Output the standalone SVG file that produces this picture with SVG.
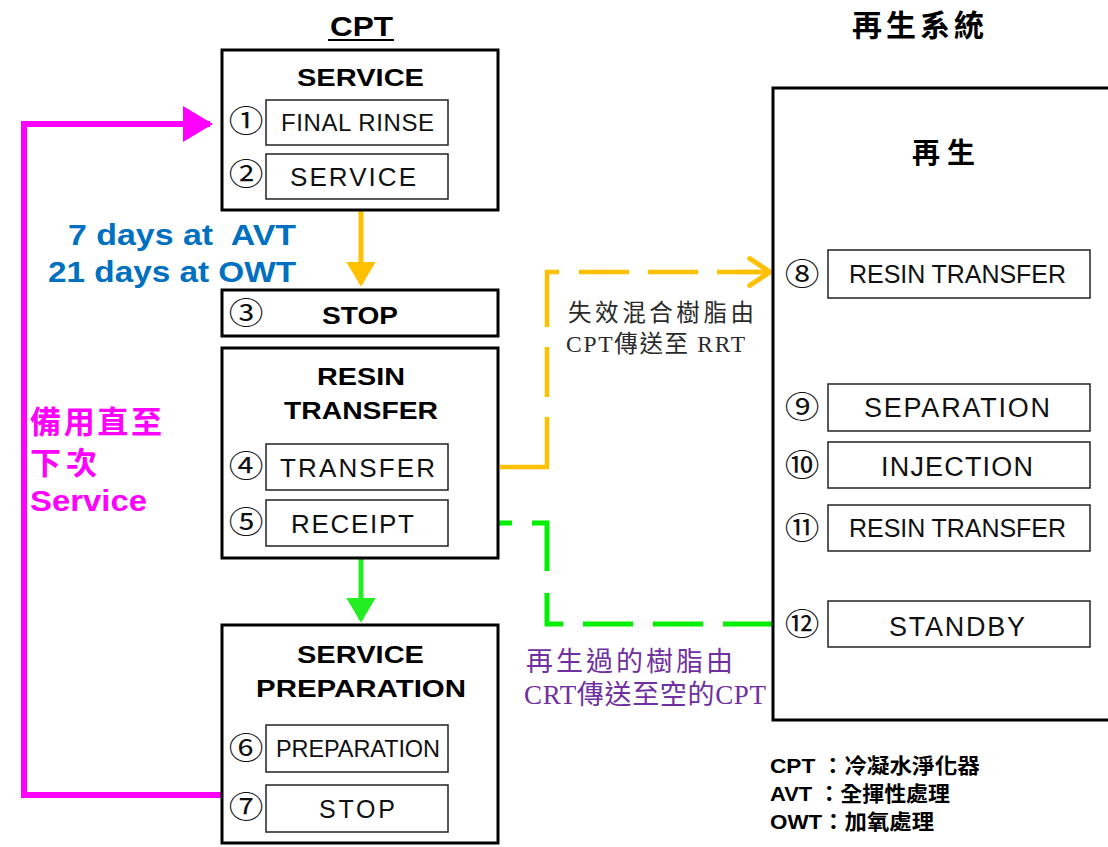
<svg xmlns="http://www.w3.org/2000/svg" width="1108" height="847" viewBox="0 0 1108 847">
<defs>
<style>
.box{fill:#fff;stroke:#000;stroke-width:3}
.ibox{fill:#fff;stroke:#222;stroke-width:1.5}
.ttl{font-family:"Liberation Sans","Noto Sans CJK TC",sans-serif;font-weight:bold;font-size:24px;fill:#000;text-anchor:middle}
.cjt{font-family:"Noto Sans CJK TC",sans-serif;font-weight:bold;fill:#000;text-anchor:middle}
.itx{font-family:"Liberation Sans",sans-serif;font-size:24px;fill:#111;text-anchor:middle}
.num{font-family:"Noto Sans CJK TC","DejaVu Sans",sans-serif;font-size:31px;fill:#111;text-anchor:middle}
.leg{font-family:"Liberation Sans","Noto Sans CJK TC",sans-serif;font-weight:bold;font-size:21px;fill:#000}
.blue{font-family:"Liberation Sans",sans-serif;font-weight:bold;font-size:30px;fill:#0070C0}
.mag{font-family:"Liberation Sans","Noto Sans CJK TC",sans-serif;font-weight:bold;fill:#FF00FF}
.orn{font-family:"Liberation Serif","Noto Sans CJK TC",serif;font-size:23.5px;fill:#2a2a2a}
.pur{font-family:"Liberation Serif","Noto Sans CJK TC",serif;font-size:27px;fill:#7030A0}
</style>
<marker id="aOr" markerWidth="6" markerHeight="6" refX="4.5" refY="3" orient="auto" markerUnits="strokeWidth"><path d="M0,0 L5,3 L0,6 Z" fill="#FFC000"/></marker>
<marker id="aOrOpen" markerWidth="10" markerHeight="10" refX="6" refY="5" orient="auto" markerUnits="strokeWidth"><path d="M1.5,2 L6,5 L1.5,8" fill="none" stroke="#FFC000" stroke-width="1.1" stroke-linecap="round" stroke-linejoin="round"/></marker>
<marker id="aGr" markerWidth="6" markerHeight="6" refX="4.5" refY="3" orient="auto" markerUnits="strokeWidth"><path d="M0,0 L5,3 L0,6 Z" fill="#22EE22"/></marker>
<marker id="aGrOpen" markerWidth="10" markerHeight="10" refX="6" refY="5" orient="auto" markerUnits="strokeWidth"><path d="M1.8,1.8 L6,5 L1.8,8.2" fill="none" stroke="#00F000" stroke-width="1.1" stroke-linecap="round" stroke-linejoin="round"/></marker>
<marker id="aMg" markerWidth="6" markerHeight="6" refX="4.5" refY="3" orient="auto" markerUnits="strokeWidth"><path d="M0,0 L5,3 L0,6 Z" fill="#FF00FF"/></marker>
</defs>
<rect width="1108" height="847" fill="#fff"/>

<!-- titles -->
<text x="361.5" y="36" class="ttl" style="font-size:28px" textLength="63" lengthAdjust="spacingAndGlyphs">CPT</text>
<line x1="328" y1="40" x2="394" y2="40" stroke="#000" stroke-width="2"/>
<text x="918" y="36" class="cjt" style="font-size:30px" textLength="132">再生系統</text>

<!-- connectors -->
<g id="connectors">
<line x1="361" y1="211" x2="361" y2="284" stroke="#FFC000" stroke-width="5" marker-end="url(#aOr)"/>
<line x1="361" y1="559" x2="361" y2="620" stroke="#22EE22" stroke-width="5" marker-end="url(#aGr)"/>
<polyline points="222,795 24,795 24,124 210,124" fill="none" stroke="#FF00FF" stroke-width="6" marker-end="url(#aMg)"/>
<polyline points="457,467 547,467 547,272 770,272" fill="none" stroke="#FFC000" stroke-width="4.5" stroke-dasharray="20 23 97 20 50 20 67 20 50 19 50 19 60 100"/>
<line x1="740" y1="272" x2="770" y2="272" stroke="#FFC000" stroke-width="4.5" marker-end="url(#aOrOpen)"/>
<polyline points="773,624 547,624 547,523 460,523" fill="none" stroke="#00F000" stroke-width="5" stroke-dasharray="50 20 50 20 50 20 47 22 63 20 60 100"/>
<line x1="490" y1="523" x2="460" y2="523" stroke="#00F000" stroke-width="5" marker-end="url(#aGrOpen)"/>
</g>

<!-- annotations -->
<text x="68" y="245" class="blue" textLength="228" lengthAdjust="spacingAndGlyphs" style="white-space:pre">7 days at  AVT</text>
<text x="48" y="282" class="blue" textLength="248" lengthAdjust="spacingAndGlyphs">21 days at OWT</text>
<text x="30" y="433" class="mag" style="font-size:31px" textLength="132">備用直至</text>
<text x="30" y="474" class="mag" style="font-size:31px" textLength="67">下次</text>
<text x="30" y="511" class="mag" style="font-size:29px" textLength="117" lengthAdjust="spacingAndGlyphs">Service</text>
<text x="568" y="321" class="orn" textLength="186">失效混合樹脂由</text>
<text x="566" y="352" class="orn" textLength="179" style="white-space:pre">CPT傳送至 RRT</text>
<text x="526" y="671" class="pur" textLength="207">再生過的樹脂由</text>
<text x="524" y="704" class="pur" textLength="242">CRT傳送至空的CPT</text>

<!-- CPT nodes -->
<g id="service">
<rect x="222" y="50" width="276" height="160" class="box"/>
<text x="360.5" y="86" class="ttl" textLength="127" lengthAdjust="spacingAndGlyphs">SERVICE</text>
<text transform="translate(246,132) scale(1.12,1)" class="num">①</text>
<rect x="266" y="100" width="182" height="45" class="ibox"/>
<text x="357.5" y="131" class="itx" textLength="153">FINAL RINSE</text>
<text transform="translate(246,185) scale(1.12,1)" class="num">②</text>
<rect x="266" y="154" width="182" height="45" class="ibox"/>
<text x="353" y="186" class="itx" style="font-size:26px" textLength="126">SERVICE</text>
</g>
<g id="stop">
<rect x="222" y="290" width="276" height="46" class="box"/>
<text transform="translate(246,324) scale(1.12,1)" class="num">③</text>
<text x="360" y="324" class="ttl" textLength="76" lengthAdjust="spacingAndGlyphs">STOP</text>
</g>
<g id="resin-transfer">
<rect x="222" y="348" width="276" height="210" class="box"/>
<text x="361" y="385" class="ttl" textLength="88" lengthAdjust="spacingAndGlyphs">RESIN</text>
<text x="361" y="419" class="ttl" textLength="154" lengthAdjust="spacingAndGlyphs">TRANSFER</text>
<text transform="translate(246,477) scale(1.12,1)" class="num">④</text>
<rect x="266" y="444" width="182" height="46" class="ibox"/>
<text x="357.5" y="477" class="itx" style="font-size:26px" textLength="155">TRANSFER</text>
<text transform="translate(246,533) scale(1.12,1)" class="num">⑤</text>
<rect x="266" y="500" width="182" height="46" class="ibox"/>
<text x="352.5" y="533" class="itx" style="font-size:26px" textLength="123">RECEIPT</text>
</g>
<g id="service-preparation">
<rect x="222" y="625" width="276" height="218" class="box"/>
<text x="360.5" y="663" class="ttl" textLength="127" lengthAdjust="spacingAndGlyphs">SERVICE</text>
<text x="361" y="697" class="ttl" textLength="210" lengthAdjust="spacingAndGlyphs">PREPARATION</text>
<text transform="translate(246,759) scale(1.12,1)" class="num">⑥</text>
<rect x="266" y="725" width="182" height="47" class="ibox"/>
<text x="358" y="757" class="itx" style="font-size:23.5px" textLength="164">PREPARATION</text>
<text transform="translate(246,818) scale(1.12,1)" class="num">⑦</text>
<rect x="266" y="785" width="182" height="47" class="ibox"/>
<text x="357" y="818" class="itx" style="font-size:25px" textLength="76">STOP</text>
</g>

<!-- regeneration system -->
<g id="regeneration">
<rect x="773" y="88" width="345" height="632" class="box"/>
<text x="943.5" y="163" class="cjt" style="font-size:28px" textLength="63">再生</text>
</g>
<g id="step8">
<text transform="translate(802,285) scale(1.12,1)" class="num">⑧</text>
<rect x="828" y="250" width="262" height="48" class="ibox"/>
<text x="957.5" y="283" class="itx" style="font-size:25px" textLength="217">RESIN TRANSFER</text>
</g>
<g id="step9">
<text transform="translate(802,418) scale(1.12,1)" class="num">⑨</text>
<rect x="828" y="384" width="262" height="47" class="ibox"/>
<text x="957" y="417" class="itx" style="font-size:27px" textLength="186">SEPARATION</text>
</g>
<g id="step10">
<text transform="translate(802,476) scale(1.12,1)" class="num">⑩</text>
<rect x="828" y="442" width="262" height="46" class="ibox"/>
<text x="957" y="476" class="itx" style="font-size:27px" textLength="152">INJECTION</text>
</g>
<g id="step11">
<text transform="translate(802,539) scale(1.12,1)" class="num">⑪</text>
<rect x="828" y="505" width="262" height="46" class="ibox"/>
<text x="957.5" y="537" class="itx" style="font-size:25px" textLength="217">RESIN TRANSFER</text>
</g>
<g id="step12">
<text transform="translate(802,635) scale(1.12,1)" class="num">⑫</text>
<rect x="828" y="601" width="262" height="46" class="ibox"/>
<text x="957" y="636" class="itx" style="font-size:27px" textLength="136">STANDBY</text>
</g>

<!-- legend -->
<g id="legend">
<text x="770" y="773" class="leg" textLength="210" lengthAdjust="spacingAndGlyphs">CPT ：冷凝水淨化器</text>
<text x="770" y="801" class="leg" textLength="180" lengthAdjust="spacingAndGlyphs">AVT ：全揮性處理</text>
<text x="770" y="829" class="leg" textLength="164" lengthAdjust="spacingAndGlyphs">OWT：加氧處理</text>
</g>
</svg>
